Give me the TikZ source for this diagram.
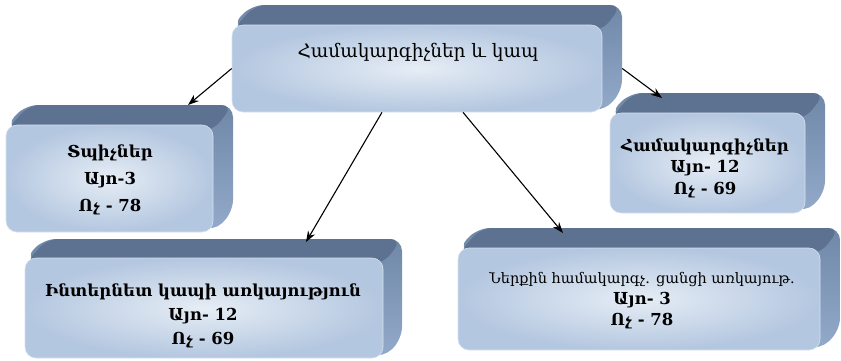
\documentclass[tikz,border=0pt]{standalone}
\usepackage{fontspec}
\setmainfont{DejaVu Serif}
\usetikzlibrary{arrows.meta}
\definecolor{topface}{HTML}{5D7290}
\definecolor{sideface}{HTML}{93AACA}
\definecolor{sidetop}{HTML}{7088A8}
\definecolor{frontin}{HTML}{E6EDF5}
\definecolor{frontout}{HTML}{B4C7E0}
\definecolor{frontedge}{HTML}{D8E2EE}
% #1 name, #2 x0, #3 y0, #4 x1, #5 y1 (front face), #6 depth
\newcommand\bevelbox[6]{%
  \shade[top color=sidetop, bottom color=sideface, rounded corners=12pt]
    (#2,#3) -- (#2+#6,#3-#6) -- (#4+#6,#3-#6) -- (#4+#6,#5-#6) -- (#4,#5) -- cycle;
  \fill[topface, rounded corners=12pt]
    (#2,#3+6) -- (#2+#6+3,#3-#6) -- (#4+#6,#3-#6) -- (#4,#3+6) -- cycle;
  \node[frontface, minimum width={#4-#2}, minimum height={#5-#3}] (#1)
    at ({(#2+#4)/2},{(#3+#5)/2}) {};
}
\begin{document}
\begin{tikzpicture}[x=1pt,y=-1pt,
  frontface/.style={rounded corners=11pt, shade, inner color=frontin, outer color=frontout,
    draw=frontedge, line width=0.6pt, inner sep=0pt},
  lbl/.style={align=center, inner sep=0pt, text=black},
  arr/.style={-{Stealth[length=11pt,width=8pt]}, line width=1.1pt, black}]
\useasboundingbox (0,0) rectangle (841,360);

\bevelbox{top}{232}{25}{602}{112}{20}
\bevelbox{prn}{6}{125}{213}{232}{20}
\bevelbox{cmp}{610}{113}{805}{213}{20}
\bevelbox{net}{25}{258}{383}{358}{19}
\bevelbox{lan}{458}{248}{820}{350}{20}

\node[lbl, font=\fontsize{18.5}{22}\selectfont] (t0) at (418,52) {Համակարգիչներ և կապ};
\node[lbl, font=\bfseries\fontsize{16.5}{27}\selectfont] (t1) at (110,180) {Տպիչներ\\Այո-3\\Ոչ - 78};
\node[lbl, font=\bfseries\fontsize{16.5}{21.5}\selectfont] (t2) at (705,168) {Համակարգիչներ\\Այո- 12\\Ոչ - 69};
\node[lbl, font=\bfseries\fontsize{16.5}{24}\selectfont] (t3) at (203,316) {Ինտերնետ կապի առկայություն\\Այո- 12\\Ոչ - 69};
\node[lbl, font=\bfseries\fontsize{16.5}{21}\selectfont] (t4) at (642,301) {{\mdseries\fontsize{14.5}{21}\selectfont Ներքին համակարգչ. ցանցի առկայութ.}\\Այո- 3\\Ոչ - 78};

\coordinate (e1) at (188,105);
\coordinate (e2) at (662,98);
\coordinate (e3) at (306,242);
\coordinate (e4) at (563,233);
\draw[arr] (top.west) -- (e1);
\draw[arr] ([xshift=20pt]top.east) -- (e2);
\draw[arr] ([xshift=-35pt]top.south) -- (e3);
\draw[arr] ([xshift=46pt]top.south) -- (e4);
\end{tikzpicture}
\end{document}
